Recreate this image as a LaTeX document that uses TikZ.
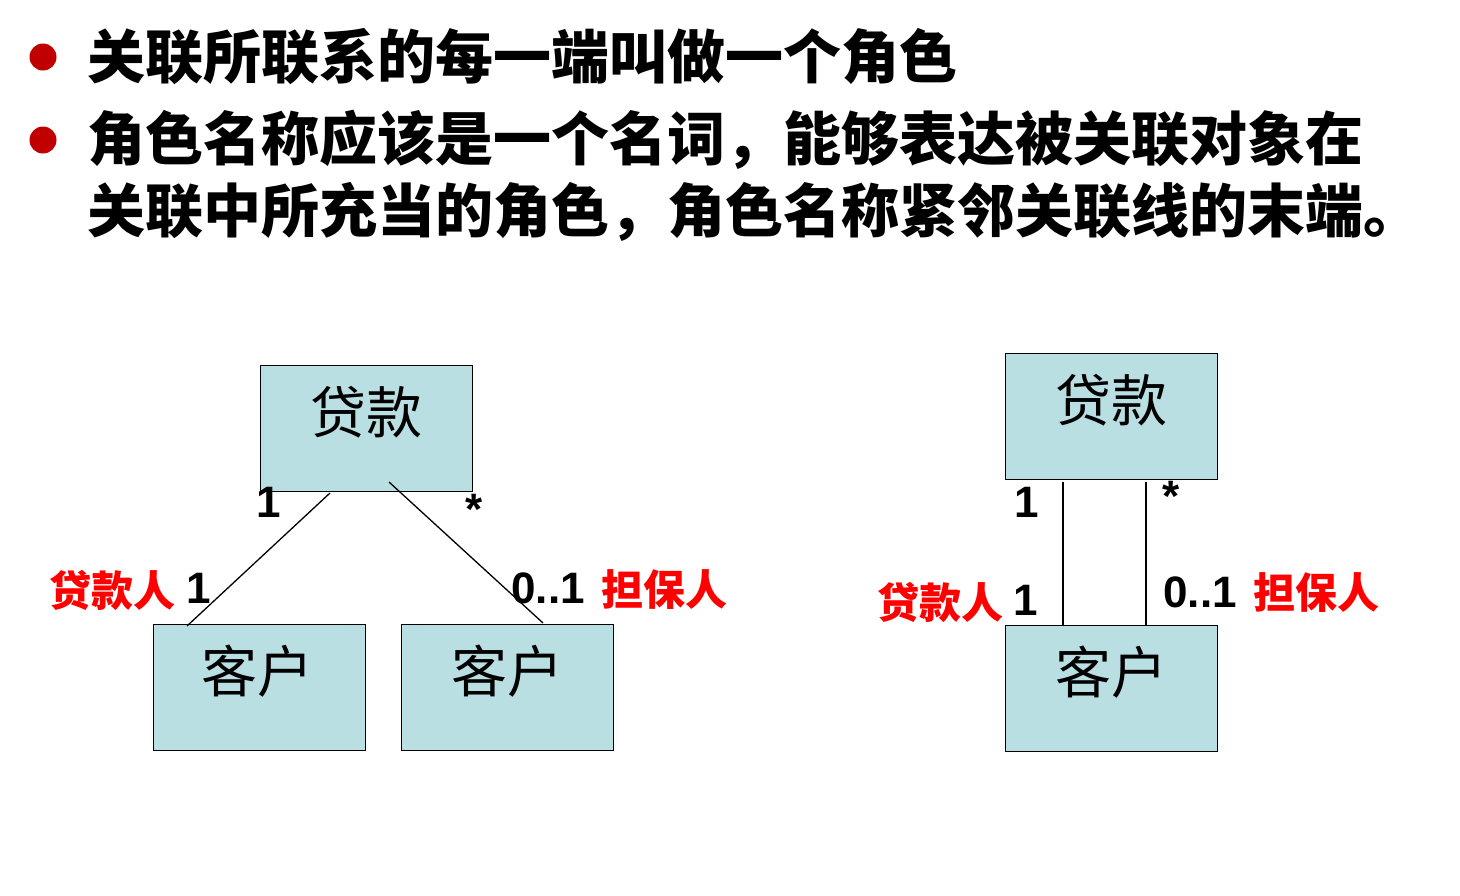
\documentclass[tikz,border=0pt]{standalone}
\usepackage{fontspec}
\setmainfont{Liberation Sans}
\newfontfamily\numfont{Liberation Sans Bold}
\newfontfamily\cjk{Noto Sans CJK SC}
\definecolor{boxfill}{RGB}{185,223,227}
\definecolor{bulletred}{RGB}{192,0,0}
\definecolor{labred}{RGB}{255,0,0}
\begin{document}
\begin{tikzpicture}[x=1pt,y=-1pt,
  heading/.style={anchor=west,inner sep=0pt,font=\cjk\bfseries\fontsize{58}{60}\selectfont},
  bulletdot/.style={circle,fill=bulletred,minimum size=27pt,inner sep=0pt},
  umlbox/.style={draw=black,line width=1pt,fill=boxfill,anchor=north west,inner sep=0pt,minimum width=212pt,minimum height=126pt},
  boxtext/.style={inner sep=0pt,font=\cjk\fontsize{56}{58}\selectfont},
  mult/.style={anchor=base,inner sep=0pt,font=\numfont\fontsize{44}{46}\selectfont},
  role/.style={inner sep=0pt,text=labred,font=\cjk\bfseries\fontsize{42}{44}\selectfont},
  assoc/.style={draw=black,line width=1.3pt}]
\path[fill=white,use as bounding box] (0,0) rectangle (1460,895);

% bullets and heading text
\node[bulletdot] (b1) at (43,57) {};
\node[bulletdot] (b2) at (43,140) {};
\node[heading] (h1) at (87,57) {关联所联系的每一端叫做一个角色};
\node[heading] (h2) at (87,140) {角色名称应该是一个名词，能够表达被关联对象在};
\node[heading] (h3) at (87,212) {关联中所充当的角色，角色名称紧邻关联线的末端。};

% left diagram
\node[umlbox] (loan1) at (260,365) {};
\node[boxtext] (loan1t) at (366,412) {贷款};
\node[umlbox] (cust1) at (153,624) {};
\node[boxtext] (cust1t) at (257,671) {客户};
\node[umlbox] (cust2) at (401,624) {};
\node[boxtext] (cust2t) at (507,671) {客户};

\coordinate (l1a) at (330,493);
\coordinate (l1b) at (187,626);
\coordinate (l2a) at (389,482);
\coordinate (l2b) at (543,623);
\draw[assoc] (l1a) -- (l1b);
\draw[assoc] (l2a) -- (l2b);

\node[mult] (m1) at (269,517) {1};
\node[mult] (m2) at (474,524) {*};
\node[mult] (m3) at (199,603) {1};
\node[mult] (m4) at (548,603) {0..1};
\node[role] (r1) at (112,590) {贷款人};
\node[role] (r2) at (664,590) {担保人};

% right diagram
\node[umlbox] (loan2) at (1005,353) {};
\node[boxtext] (loan2t) at (1111,400) {贷款};
\node[umlbox] (cust3) at (1005,625) {};
\node[boxtext] (cust3t) at (1111,672) {客户};

\coordinate (r1a) at (1063,482);
\coordinate (r1b) at (1063,625);
\coordinate (r2a) at (1146,482);
\coordinate (r2b) at (1146,625);
\draw[assoc] (r1a) -- (r1b);
\draw[assoc] (r2a) -- (r2b);

\node[mult] (m5) at (1027,517) {1};
\node[mult] (m6) at (1171,511) {*};
\node[mult] (m7) at (1026,615) {1};
\node[mult] (m8) at (1200,607) {0..1};
\node[role] (r3) at (940,602) {贷款人};
\node[role] (r4) at (1316,593) {担保人};
\end{tikzpicture}
\end{document}
